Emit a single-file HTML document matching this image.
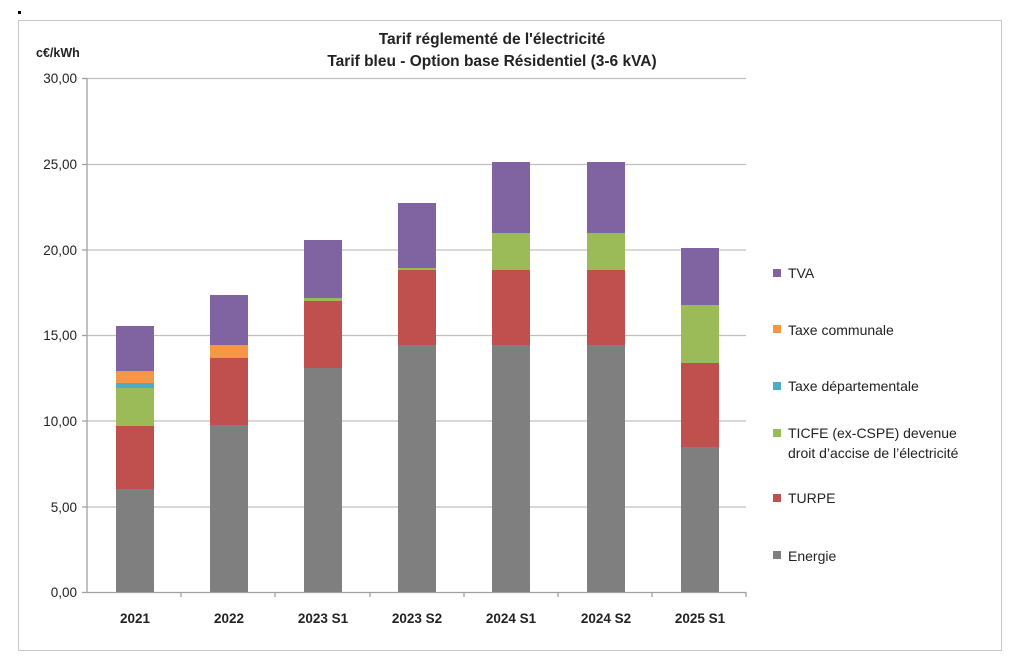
<!DOCTYPE html>
<html><head><meta charset="utf-8"><style>
body{margin:0;background:#fff;}
svg{display:block;font-family:"Liberation Sans",sans-serif;}
</style></head><body>
<svg width="1024" height="668" viewBox="0 0 1024 668">
<rect x="0" y="0" width="1024" height="668" fill="#fff"/>
<rect x="18.5" y="20.5" width="983" height="630" fill="#fff" stroke="#c8c8c8" stroke-width="1"/>
<rect x="18" y="11" width="3" height="3" fill="#000"/>
<g stroke="#c0c0c0" stroke-width="1.3">
<line x1="87" y1="78.5" x2="746" y2="78.5"/>
<line x1="87" y1="164.5" x2="746" y2="164.5"/>
<line x1="87" y1="250" x2="746" y2="250"/>
<line x1="87" y1="335.5" x2="746" y2="335.5"/>
<line x1="87" y1="421" x2="746" y2="421"/>
<line x1="87" y1="507" x2="746" y2="507"/>
</g>
<g stroke="#a0a0a0" stroke-width="1.3">
<line x1="87" y1="78" x2="87" y2="592"/>
<line x1="82" y1="592.5" x2="746" y2="592.5"/>
<line x1="82" y1="78.5" x2="87" y2="78.5"/><line x1="82" y1="164.5" x2="87" y2="164.5"/><line x1="82" y1="250" x2="87" y2="250"/><line x1="82" y1="335.5" x2="87" y2="335.5"/><line x1="82" y1="421" x2="87" y2="421"/><line x1="82" y1="507" x2="87" y2="507"/>
<line x1="181" y1="592" x2="181" y2="597"/><line x1="275" y1="592" x2="275" y2="597"/><line x1="370" y1="592" x2="370" y2="597"/><line x1="464" y1="592" x2="464" y2="597"/><line x1="558" y1="592" x2="558" y2="597"/><line x1="652" y1="592" x2="652" y2="597"/><line x1="746" y1="592" x2="746" y2="597"/>
</g>
<g font-size="13.5" fill="#222" text-anchor="end">
<text x="77" y="83">30,00</text><text x="77" y="169">25,00</text><text x="77" y="255">20,00</text><text x="77" y="340">15,00</text><text x="77" y="426">10,00</text><text x="77" y="512">5,00</text><text x="77" y="597">0,00</text>
</g>
<text x="36" y="57" font-size="12.5" font-weight="bold" fill="#222">c€/kWh</text>
<g font-size="15.5" font-weight="bold" fill="#222" text-anchor="middle">
<text x="492" y="44">Tarif réglementé de l'électricité</text>
<text x="492" y="66">Tarif bleu - Option base Résidentiel (3-6 kVA)</text>
</g>
<g>
<rect x="116" y="489" width="38" height="103" fill="#7f7f7f"/>
<rect x="116" y="426" width="38" height="63" fill="#c0504d"/>
<rect x="116" y="388" width="38" height="38" fill="#9bbb59"/>
<rect x="116" y="383" width="38" height="5" fill="#4bacc6"/>
<rect x="116" y="371" width="38" height="12" fill="#f79646"/>
<rect x="116" y="326" width="38" height="45" fill="#8064a2"/>
<rect x="210" y="425" width="38" height="167" fill="#7f7f7f"/>
<rect x="210" y="358" width="38" height="67" fill="#c0504d"/>
<rect x="210" y="357" width="38" height="1" fill="#9bbb59"/>
<rect x="210" y="345" width="38" height="12" fill="#f79646"/>
<rect x="210" y="295" width="38" height="50" fill="#8064a2"/>
<rect x="304" y="368" width="38" height="224" fill="#7f7f7f"/>
<rect x="304" y="301" width="38" height="67" fill="#c0504d"/>
<rect x="304" y="298" width="38" height="3" fill="#9bbb59"/>
<rect x="304" y="240" width="38" height="58" fill="#8064a2"/>
<rect x="398" y="345" width="38" height="247" fill="#7f7f7f"/>
<rect x="398" y="270" width="38" height="75" fill="#c0504d"/>
<rect x="398" y="268" width="38" height="2" fill="#9bbb59"/>
<rect x="398" y="203" width="38" height="65" fill="#8064a2"/>
<rect x="492" y="345" width="38" height="247" fill="#7f7f7f"/>
<rect x="492" y="270" width="38" height="75" fill="#c0504d"/>
<rect x="492" y="233" width="38" height="37" fill="#9bbb59"/>
<rect x="492" y="162" width="38" height="71" fill="#8064a2"/>
<rect x="587" y="345" width="38" height="247" fill="#7f7f7f"/>
<rect x="587" y="270" width="38" height="75" fill="#c0504d"/>
<rect x="587" y="233" width="38" height="37" fill="#9bbb59"/>
<rect x="587" y="162" width="38" height="71" fill="#8064a2"/>
<rect x="681" y="447" width="38" height="145" fill="#7f7f7f"/>
<rect x="681" y="363" width="38" height="84" fill="#c0504d"/>
<rect x="681" y="305" width="38" height="58" fill="#9bbb59"/>
<rect x="681" y="248" width="38" height="57" fill="#8064a2"/>
</g>
<g font-size="13.5" font-weight="bold" fill="#222" text-anchor="middle">
<text x="135" y="623">2021</text><text x="229" y="623">2022</text><text x="323" y="623">2023 S1</text><text x="417" y="623">2023 S2</text><text x="511" y="623">2024 S1</text><text x="606" y="623">2024 S2</text><text x="700" y="623">2025 S1</text>
</g>
<g font-size="14" fill="#222">
<rect x="773" y="269" width="8" height="8" fill="#8064a2"/><text x="788" y="278">TVA</text>
<rect x="773" y="325" width="8" height="8" fill="#f79646"/><text x="788" y="335">Taxe communale</text>
<rect x="773" y="382" width="8" height="8" fill="#4bacc6"/><text x="788" y="391">Taxe départementale</text>
<rect x="773" y="429" width="8" height="8" fill="#9bbb59"/><text x="788" y="438">TICFE (ex-CSPE) devenue</text><text x="788" y="458">droit d’accise de l’électricité</text>
<rect x="773" y="494" width="8" height="8" fill="#c0504d"/><text x="788" y="503">TURPE</text>
<rect x="773" y="551" width="8" height="8" fill="#7f7f7f"/><text x="788" y="561">Energie</text>
</g>
</svg>
</body></html>
